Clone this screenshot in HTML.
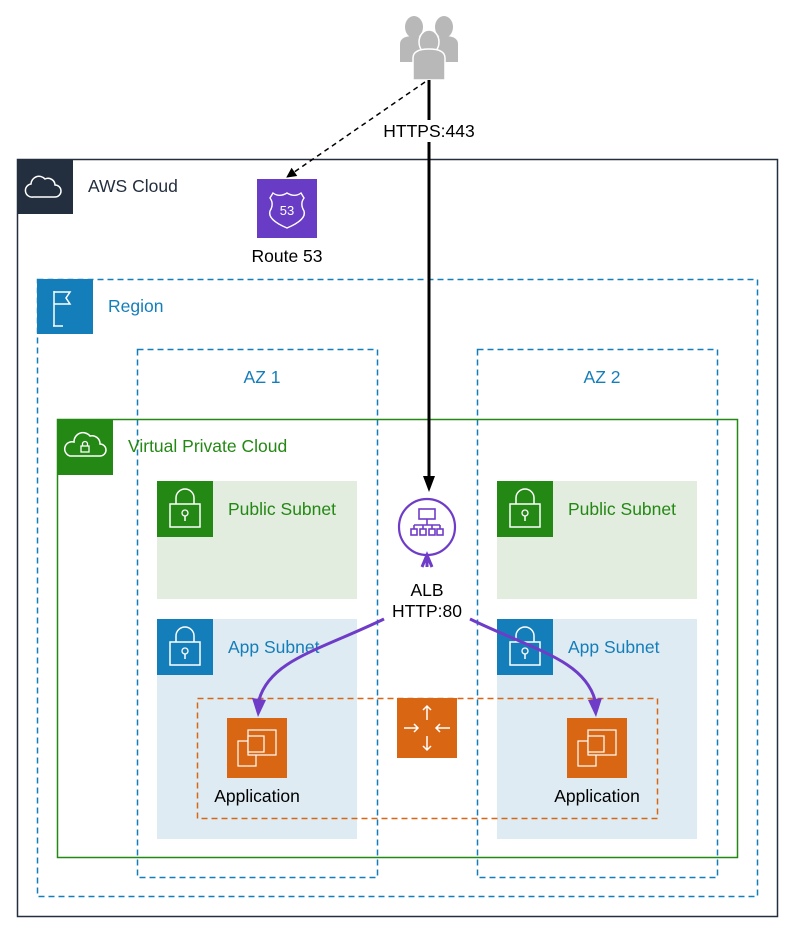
<!DOCTYPE html>
<html><head><meta charset="utf-8"><style>
html,body{margin:0;padding:0;background:#fff;}
svg{display:block;}
text{font-family:"Liberation Sans",Arial,sans-serif;}
</style></head><body>
<svg width="799" height="936" viewBox="0 0 799 936" xmlns="http://www.w3.org/2000/svg">
<defs>
<marker id="ab" viewBox="0 0 10 10" refX="9" refY="5" markerWidth="12" markerHeight="10" orient="auto-start-reverse" markerUnits="userSpaceOnUse"><path d="M0,0 L10,5 L0,10 Z" fill="#000"/></marker>
</defs>
<!-- AWS Cloud -->
<rect x="17.5" y="159.5" width="760" height="757" fill="none" stroke="#232f3e" stroke-width="1.5"/>
<rect x="17" y="159" width="56" height="55" fill="#232f3e"/>
<path d="M33,197 h22 a6,6 0 0 0 0,-12 a7,7 0 0 0 -10,-6 a8,8 0 0 0 -14,5 a6,6 0 0 0 2,13 z" fill="none" stroke="#fff" stroke-width="1.5"/>
<text x="88" y="192" font-size="17.5" fill="#232f3e">AWS Cloud</text>
<!-- Region -->
<rect x="37.5" y="279.5" width="720" height="617" fill="none" stroke="#147eba" stroke-width="1.5" stroke-dasharray="6,4"/>
<rect x="37" y="279" width="56" height="55" fill="#147eba"/>
<path d="M53,326 h10 M54,291 v35 M54,292 h16 l-4,6 l4,6 h-16" fill="none" stroke="#fff" stroke-width="1.5"/>
<text x="108" y="312" font-size="17.5" fill="#147eba">Region</text>
<!-- AZs -->
<rect x="137.5" y="349.5" width="240" height="528" fill="none" stroke="#147eba" stroke-width="1.5" stroke-dasharray="6,4"/>
<rect x="477.5" y="349.5" width="240" height="528" fill="none" stroke="#147eba" stroke-width="1.5" stroke-dasharray="6,4"/>
<text x="262" y="383" font-size="17.5" fill="#147eba" text-anchor="middle">AZ 1</text>
<text x="602" y="383" font-size="17.5" fill="#147eba" text-anchor="middle">AZ 2</text>
<!-- VPC -->
<rect x="57.5" y="419.5" width="680" height="438" fill="none" stroke="#248814" stroke-width="1.5"/>
<rect x="57" y="419" width="56" height="56" fill="#248814"/>
<path d="M70,456 h30 a6,6 0 0 0 0,-12 a8,8 0 0 0 -10,-8 a9,9 0 0 0 -16,6 a7,7 0 0 0 -4,14 z" fill="none" stroke="#fff" stroke-width="1.5"/>
<rect x="81" y="446" width="8" height="6" fill="none" stroke="#fff" stroke-width="1.3"/>
<path d="M82.5,446 v-2 a2.5,2.5 0 0 1 5,0 v2" fill="none" stroke="#fff" stroke-width="1.3"/>
<text x="128" y="452" font-size="17.5" fill="#248814">Virtual Private Cloud</text>
<!-- Subnets -->
<g>
<rect x="157" y="481" width="200" height="118" fill="#e2ecdf"/>
<rect x="157" y="481" width="56" height="56" fill="#248814"/>
<rect x="170" y="504" width="30" height="23" fill="none" stroke="#fff" stroke-width="1.5"/>
<path d="M176,504 v-6 a9,9 0 0 1 18,0 v6" fill="none" stroke="#fff" stroke-width="1.5"/>
<circle cx="185" cy="513" r="3" fill="none" stroke="#fff" stroke-width="1.3"/><path d="M185,516 v5" stroke="#fff" stroke-width="1.5"/>
<text x="228" y="515" font-size="17.5" fill="#248814">Public Subnet</text>
</g>
<g transform="translate(340,0)">
<rect x="157" y="481" width="200" height="118" fill="#e2ecdf"/>
<rect x="157" y="481" width="56" height="56" fill="#248814"/>
<rect x="170" y="504" width="30" height="23" fill="none" stroke="#fff" stroke-width="1.5"/>
<path d="M176,504 v-6 a9,9 0 0 1 18,0 v6" fill="none" stroke="#fff" stroke-width="1.5"/>
<circle cx="185" cy="513" r="3" fill="none" stroke="#fff" stroke-width="1.3"/><path d="M185,516 v5" stroke="#fff" stroke-width="1.5"/>
<text x="228" y="515" font-size="17.5" fill="#248814">Public Subnet</text>
</g>
<g>
<rect x="157" y="619" width="200" height="220" fill="#deebf3"/>
<rect x="157" y="619" width="56" height="56" fill="#147eba"/>
<rect x="170" y="642" width="30" height="23" fill="none" stroke="#fff" stroke-width="1.5"/>
<path d="M176,642 v-6 a9,9 0 0 1 18,0 v6" fill="none" stroke="#fff" stroke-width="1.5"/>
<circle cx="185" cy="651" r="3" fill="none" stroke="#fff" stroke-width="1.3"/><path d="M185,654 v5" stroke="#fff" stroke-width="1.5"/>
<text x="228" y="653" font-size="17.5" fill="#147eba">App Subnet</text>
</g>
<g transform="translate(340,0)">
<rect x="157" y="619" width="200" height="220" fill="#deebf3"/>
<rect x="157" y="619" width="56" height="56" fill="#147eba"/>
<rect x="170" y="642" width="30" height="23" fill="none" stroke="#fff" stroke-width="1.5"/>
<path d="M176,642 v-6 a9,9 0 0 1 18,0 v6" fill="none" stroke="#fff" stroke-width="1.5"/>
<circle cx="185" cy="651" r="3" fill="none" stroke="#fff" stroke-width="1.3"/><path d="M185,654 v5" stroke="#fff" stroke-width="1.5"/>
<text x="228" y="653" font-size="17.5" fill="#147eba">App Subnet</text>
</g>
<!-- orange dashed group -->
<rect x="197.5" y="698.5" width="460" height="120" fill="none" stroke="#d86613" stroke-width="1.5" stroke-dasharray="6,4"/>
<!-- EC2 icons -->
<g>
<rect x="227" y="718" width="60" height="60" fill="#d86613"/>
<rect x="238" y="741" width="18" height="25" fill="none" stroke="#fff" stroke-width="1.2"/>
<rect x="248" y="730" width="28" height="25" fill="#d86613" stroke="#fff" stroke-width="1.2"/>
<rect x="248" y="736" width="16" height="16" fill="#d86613" stroke="#fff" stroke-width="1.2"/>
<text x="257" y="802" font-size="17.5" fill="#000" text-anchor="middle">Application</text>
</g>
<g transform="translate(340,0)">
<rect x="227" y="718" width="60" height="60" fill="#d86613"/>
<rect x="238" y="741" width="18" height="25" fill="none" stroke="#fff" stroke-width="1.2"/>
<rect x="248" y="730" width="28" height="25" fill="#d86613" stroke="#fff" stroke-width="1.2"/>
<rect x="248" y="736" width="16" height="16" fill="#d86613" stroke="#fff" stroke-width="1.2"/>
<text x="257" y="802" font-size="17.5" fill="#000" text-anchor="middle">Application</text>
</g>
<!-- Router / NAT -->
<rect x="397" y="698" width="60" height="60" fill="#d86613"/>
<g stroke="#fff" stroke-width="1.5" fill="none">
<path d="M427,706 v14 M423,710 l4,-4 l4,4"/>
<path d="M427,750 v-14 M423,746 l4,4 l4,-4"/>
<path d="M404,728 h14 M414,724 l4,4 l-4,4"/>
<path d="M450,728 h-14 M440,724 l-4,4 l4,4"/>
</g>
<!-- Route 53 -->
<rect x="257" y="179" width="60" height="59" fill="#693cc5"/>
<path d="M287,193 c5,3 10,3 14,0 l3,5 c-3,4 -3,8 0,13 c2,6 -5,12 -17,17 c-12,-5 -19,-11 -17,-17 c3,-5 3,-9 0,-13 l3,-5 c4,3 9,3 14,0 z" fill="none" stroke="#fff" stroke-width="1.4"/>
<text x="287" y="215" font-size="13" fill="#fff" text-anchor="middle">53</text>
<text x="287" y="262" font-size="17.5" fill="#000" text-anchor="middle">Route 53</text>
<!-- Users -->
<g fill="#b8b8b8">
<ellipse cx="414" cy="27" rx="9" ry="11"/><path d="M400,62 v-18 q0,-8 14,-8 q14,0 14,8 v18 z"/>
<ellipse cx="444" cy="27" rx="9" ry="11"/><path d="M430,62 v-18 q0,-8 14,-8 q14,0 14,8 v18 z"/>
<ellipse cx="429" cy="42" rx="10" ry="12" stroke="#fff" stroke-width="1.5"/><path d="M413,80 v-22 q0,-9 16,-9 q16,0 16,9 v22 z" stroke="#fff" stroke-width="1.5"/>
</g>
<!-- dashed to route53 -->
<line x1="425" y1="82" x2="287" y2="177" stroke="#000" stroke-width="1.5" stroke-dasharray="5,4" marker-end="url(#ab)"/>
<!-- HTTPS line -->
<line x1="429" y1="80" x2="429" y2="478" stroke="#000" stroke-width="3"/>
<path d="M423,476 L429,492 L435,476 Z" fill="#000"/>
<rect x="378" y="120" width="102" height="22" fill="#fff"/>
<text x="429" y="137" font-size="17.5" fill="#000" text-anchor="middle">HTTPS:443</text>
<!-- ALB -->
<circle cx="427" cy="527" r="28" fill="#fff" stroke="#6f3cc8" stroke-width="2.2"/>
<g stroke="#6f3cc8" stroke-width="1.6" fill="none">
<rect x="419" y="509" width="16" height="10"/>
<path d="M427,519 v6 M414,525 h26 M414,525 v4 M423,525 v4 M432,525 v4 M440,525 v4"/>
<rect x="411" y="529" width="6" height="6"/><rect x="420" y="529" width="6" height="6"/><rect x="429" y="529" width="6" height="6"/><rect x="437" y="529" width="6" height="6"/>
</g>
<path d="M427,555 v12 M422,567 l5,-12 l5,12" stroke="#6f3cc8" stroke-width="3" fill="none"/>
<text x="427" y="596" font-size="17.5" fill="#000" text-anchor="middle">ALB</text>
<text x="427" y="617" font-size="17.5" fill="#000" text-anchor="middle">HTTP:80</text>
<!-- purple curves -->
<path d="M384,619 C320,650 270,660 259,700" stroke="#6f3cc8" stroke-width="3" fill="none"/>
<path d="M252,698 L258,717 L266,700 Z" fill="#6f3cc8"/>
<path d="M470,619 C534,650 584,660 595,700" stroke="#6f3cc8" stroke-width="3" fill="none"/>
<path d="M588,700 L596,717 L602,698 Z" fill="#6f3cc8"/>
</svg>
</body></html>
